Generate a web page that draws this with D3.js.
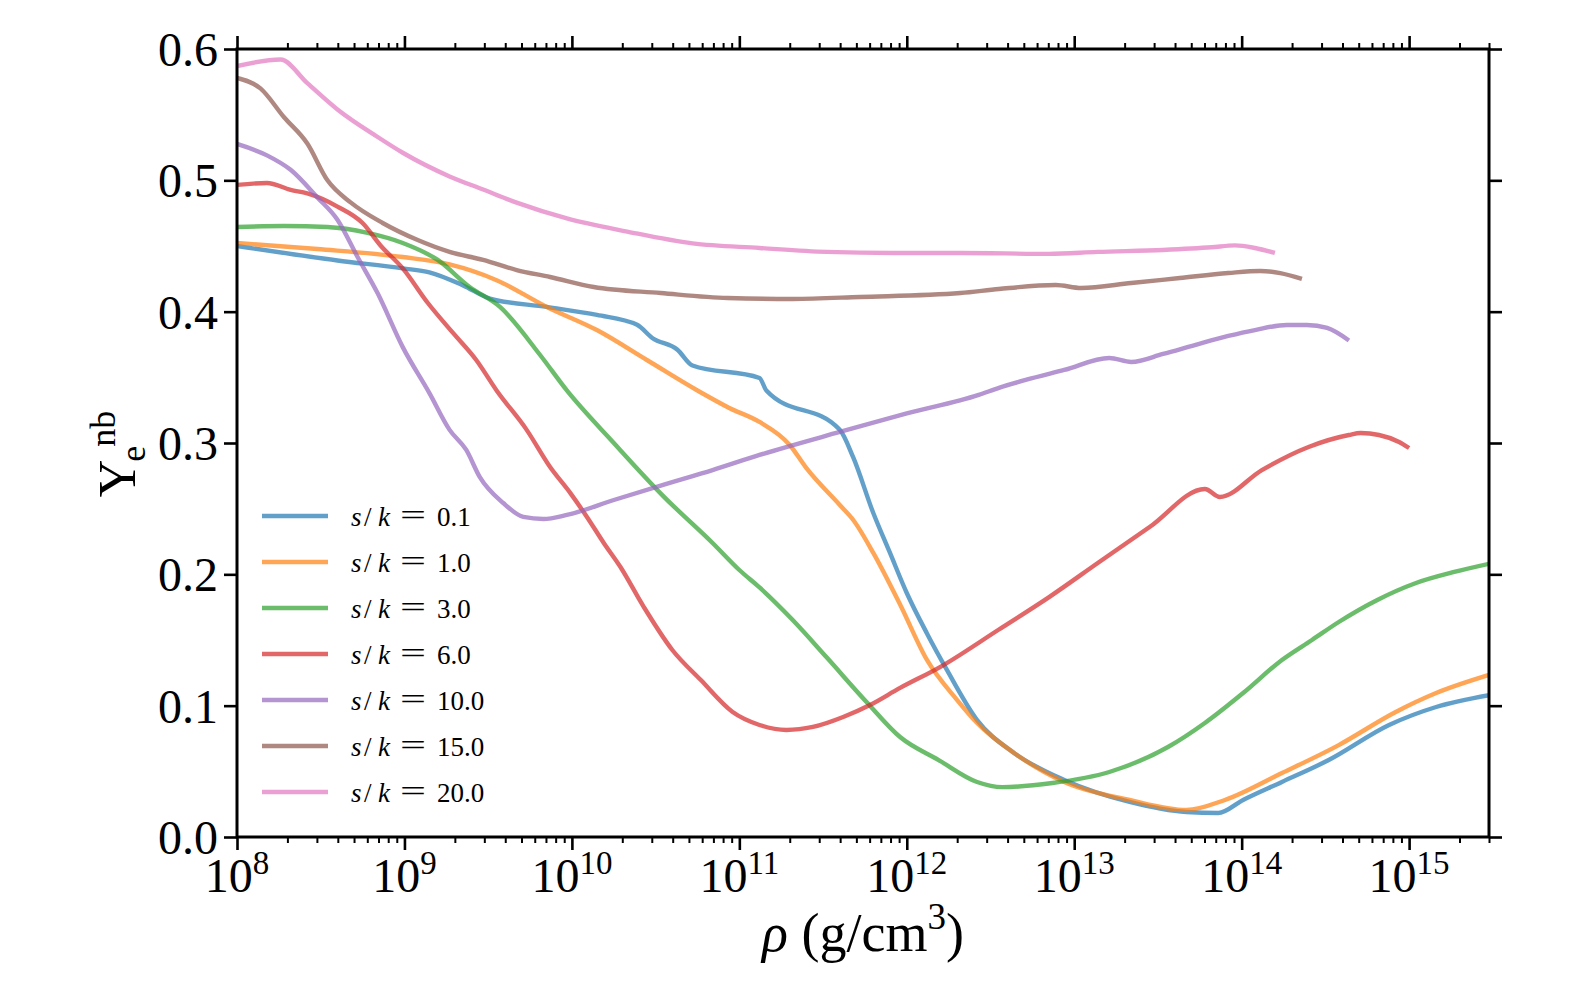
<!DOCTYPE html>
<html>
<head>
<meta charset="utf-8">
<script src="https://cdn.jsdelivr.net/npm/d3@7"></script>
<style>
  body { margin: 0; background: #fff; }
  svg { display: block; }
  text { font-family: "Liberation Serif", "DejaVu Serif", serif; fill: #000; }
</style>
</head>
<body>
<svg id="chart" width="1578" height="986"></svg>
<script>
// ---------------- data ----------------
const seriesLabels = ["0.1", "1.0", "3.0", "6.0", "10.0", "15.0", "20.0"];
const seriesColors = ["#1f77b4", "#ff7f0e", "#2ca02c", "#d62728", "#9467bd", "#8c564b", "#e377c2"];

const rho_s01 = [1e8, 3.98e8, 9.77e8, 1.41e9, 2.24e9, 3.24e9, 7.08e9, 1.41e10, 2.45e10, 3.02e10, 4.27e10, 5.25e10, 1.32e11, 1.45e11, 3.98e11, 4.79e11, 6.31e11, 7.94e11, 1.0e12, 1.32e12, 1.74e12, 2.63e12, 4.37e12, 8.71e12, 2.14e13, 4.68e13, 7.24e13, 1.02e14, 1.74e14, 3.31e14, 7.59e14, 1.45e15, 3e15];
const ye_s01  = [0.450, 0.439, 0.433, 0.430, 0.420, 0.410, 0.4036, 0.3975, 0.390, 0.380, 0.371, 0.359, 0.3495, 0.340, 0.310, 0.289, 0.2467, 0.2163, 0.1858, 0.155, 0.127, 0.089, 0.064, 0.0434, 0.0267, 0.019, 0.0183, 0.0282, 0.0419, 0.0586, 0.0853, 0.099, 0.108];

const rho_s1 = [1e8, 3.02e8, 9.77e8, 1.86e9, 3.55e9, 7.08e9, 1.41e10, 2.82e10, 5.62e10, 8.71e10, 1.32e11, 2.0e11, 2.51e11, 3.98e11, 4.79e11, 6.31e11, 9.12e11, 1.32e12, 2.0e12, 2.63e12, 4.37e12, 8.71e12, 2.14e13, 4.68e13, 7.94e13, 1.74e14, 3.8e14, 8.32e14, 1.45e15, 3e15];
const ye_s1  = [0.4523, 0.4477, 0.4416, 0.436, 0.424, 0.4036, 0.386, 0.363, 0.340, 0.3267, 0.316, 0.2985, 0.281, 0.2528, 0.2414, 0.2163, 0.177, 0.1348, 0.1043, 0.0868, 0.064, 0.0419, 0.0282, 0.0206, 0.0282, 0.0487, 0.070, 0.0952, 0.1096, 0.1234];

const rho_s3 = [1e8, 1.91e8, 3.47e8, 6.03e8, 9.77e8, 1.58e9, 2.45e9, 3.72e9, 6.46e9, 9.33e9, 1.78e10, 3.55e10, 6.92e10, 1.0e11, 1.32e11, 2.09e11, 3.31e11, 5.75e11, 9.12e11, 1.55e12, 2.63e12, 3.72e12, 7.41e12, 1.62e13, 3.63e13, 6.03e13, 1.02e14, 1.74e14, 2.63e14, 3.8e14, 6.46e14, 1.1e15, 1.86e15, 3e15];
const ye_s3  = [0.4645, 0.4652, 0.4645, 0.460, 0.4523, 0.4394, 0.4188, 0.4036, 0.367, 0.340, 0.300, 0.259, 0.2239, 0.2033, 0.190, 0.165, 0.137, 0.1028, 0.0761, 0.0586, 0.0419, 0.038, 0.0411, 0.0495, 0.0685, 0.0868, 0.1096, 0.1348, 0.150, 0.1637, 0.1805, 0.1934, 0.2018, 0.208];

const rho_s6 = [1e8, 1.51e8, 2.09e8, 2.63e8, 3.98e8, 5.62e8, 7.24e8, 9.77e8, 1.38e9, 1.95e9, 2.69e9, 3.55e9, 5.37e9, 7.41e9, 9.77e9, 1.23e10, 1.55e10, 1.95e10, 2.69e10, 3.98e10, 5.89e10, 9.12e10, 1.32e11, 1.91e11, 2.75e11, 4.17e11, 6.03e11, 9.12e11, 1.58e12, 3.55e12, 7.08e12, 1.41e13, 2.82e13, 6.03e13, 7.41e13, 1.32e14, 2.51e14, 4.37e14, 5.13e14, 6.61e14, 8.71e14, 1e15];
const ye_s6  = [0.4965, 0.498, 0.4927, 0.490, 0.480, 0.4675, 0.450, 0.433, 0.4066, 0.3838, 0.363, 0.340, 0.310, 0.2817, 0.262, 0.2437, 0.2239, 0.2056, 0.1751, 0.1424, 0.1195, 0.0952, 0.0853, 0.0815, 0.0838, 0.0914, 0.1005, 0.1135, 0.1294, 0.158, 0.1827, 0.2094, 0.236, 0.265, 0.2589, 0.2794, 0.297, 0.3061, 0.3076, 0.3061, 0.3008, 0.2962];

const rho_s10 = [1e8, 1.51e8, 2.09e8, 3.02e8, 3.98e8, 5.25e8, 6.92e8, 9.77e8, 1.41e9, 1.86e9, 2.34e9, 2.82e9, 3.89e9, 5.13e9, 6.76e9, 9.33e9, 1.78e10, 3.47e10, 6.92e10, 1.32e11, 3.98e11, 1.0e12, 2.69e12, 3.55e12, 5.13e12, 8.71e12, 1.62e13, 2.19e13, 3.39e13, 5.25e13, 8.32e13, 1.2e14, 1.86e14, 2.45e14, 3.24e14, 4.37e14];
const ye_s10  = [0.5277, 0.519, 0.508, 0.487, 0.470, 0.4416, 0.414, 0.373, 0.338, 0.310, 0.2947, 0.274, 0.2543, 0.2437, 0.2421, 0.2452, 0.2566, 0.268, 0.2794, 0.2909, 0.3084, 0.3225, 0.3366, 0.342, 0.348, 0.3556, 0.3647, 0.3617, 0.3678, 0.3746, 0.3815, 0.386, 0.3899, 0.3899, 0.3876, 0.378];

const rho_s15 = [1e8, 1.38e8, 1.91e8, 2.63e8, 3.47e8, 4.79e8, 7.41e8, 1.2e9, 1.86e9, 2.95e9, 4.68e9, 7.41e9, 1.35e10, 3.39e10, 8.51e10, 2.09e11, 5.25e11, 2.09e12, 3.55e12, 7.76e12, 1.1e13, 2.19e13, 4.27e13, 8.32e13, 1.29e14, 1.7e14, 2.29e14];
const ye_s15  = [0.578, 0.570, 0.548, 0.528, 0.500, 0.483, 0.4675, 0.4545, 0.4455, 0.4394, 0.4317, 0.4264, 0.4188, 0.4142, 0.4104, 0.4097, 0.4112, 0.4142, 0.4173, 0.4203, 0.418, 0.4218, 0.4256, 0.4294, 0.431, 0.4294, 0.4249];

const rho_s20 = [1e8, 1.82e8, 2.63e8, 3.98e8, 6.92e8, 9.77e8, 1.86e9, 2.95e9, 4.68e9, 9.33e9, 2.14e10, 5.25e10, 1.32e11, 3.31e11, 8.32e11, 2.09e12, 7.08e12, 1.38e13, 3.39e13, 6.61e13, 9.12e13, 1.2e14, 1.58e14];
const ye_s20  = [0.587, 0.592, 0.574, 0.554, 0.533, 0.521, 0.503, 0.493, 0.483, 0.471, 0.461, 0.452, 0.4485, 0.4455, 0.4447, 0.4447, 0.444, 0.4455, 0.447, 0.449, 0.4505, 0.4485, 0.4447];

const xDomain = [1e8, 3e15];
const yDomain = [0, 0.6];
const yTickValues = [0.0, 0.1, 0.2, 0.3, 0.4, 0.5, 0.6];
const xMajorTicks = [1e8, 1e9, 1e10, 1e11, 1e12, 1e13, 1e14, 1e15];

// ---------------- build ----------------
const allRho = [rho_s01, rho_s1, rho_s3, rho_s6, rho_s10, rho_s15, rho_s20];
const allYe = [ye_s01, ye_s1, ye_s3, ye_s6, ye_s10, ye_s15, ye_s20];
const series = seriesLabels.map((lab, i) => ({
  label: lab, color: seriesColors[i],
  points: allRho[i].map((r, j) => ({ rho: r, ye: allYe[i][j] }))
}));

const W = 1578, H = 986;
const margin = { left: 237, right: 89, top: 49, bottom: 149 };
const svg = d3.select("#chart");

const x = d3.scaleLog().domain(xDomain).range([margin.left, W - margin.right]);
const y = d3.scaleLinear().domain(yDomain).range([H - margin.bottom, margin.top]);

const allTicks = x.ticks();
const minorTicks = allTicks.filter(v => Math.abs(Math.log10(v) - Math.round(Math.log10(v))) > 1e-6 && v <= xDomain[1] * 1.0001);

const plotBottom = H - margin.bottom, plotTop = margin.top;
const plotLeft = margin.left, plotRight = W - margin.right;

// clip
svg.append("defs").append("clipPath").attr("id", "clip")
  .append("rect").attr("x", plotLeft).attr("y", plotTop)
  .attr("width", plotRight - plotLeft).attr("height", plotBottom - plotTop);

// lines
const line = d3.line().x(d => x(d.rho)).y(d => y(d.ye)).curve(d3.curveMonotoneX);
svg.append("g").attr("clip-path", "url(#clip)")
  .selectAll("path").data(series).join("path")
  .attr("d", d => line(d.points))
  .attr("fill", "none")
  .attr("stroke", d => d.color)
  .attr("stroke-opacity", 0.7)
  .attr("stroke-width", 4.4)
  .attr("stroke-linejoin", "round")
  .attr("stroke-linecap", "butt");

// axes
function styleAxis(g, w) {
  g.select(".domain").remove();
  g.selectAll(".tick line").attr("stroke", "#000").attr("stroke-width", w);
  g.selectAll(".tick text").remove();
}
svg.append("g").attr("transform", `translate(0,${plotBottom})`)
  .call(d3.axisBottom(x).tickValues(xMajorTicks).tickSize(13).tickFormat(""))
  .call(g => styleAxis(g, 2.6));
svg.append("g").attr("transform", `translate(0,${plotBottom})`)
  .call(d3.axisBottom(x).tickValues(minorTicks).tickSize(6).tickFormat(""))
  .call(g => styleAxis(g, 2));
svg.append("g").attr("transform", `translate(0,${plotTop})`)
  .call(d3.axisTop(x).tickValues(xMajorTicks).tickSize(13).tickFormat(""))
  .call(g => styleAxis(g, 2.6));
svg.append("g").attr("transform", `translate(0,${plotTop})`)
  .call(d3.axisTop(x).tickValues(minorTicks).tickSize(6).tickFormat(""))
  .call(g => styleAxis(g, 2));
svg.append("g").attr("transform", `translate(${plotLeft},0)`)
  .call(d3.axisLeft(y).tickValues(yTickValues).tickSize(13).tickFormat(""))
  .call(g => styleAxis(g, 2.6));
svg.append("g").attr("transform", `translate(${plotRight},0)`)
  .call(d3.axisRight(y).tickValues(yTickValues).tickSize(13).tickFormat(""))
  .call(g => styleAxis(g, 2.6));

// frame
svg.append("rect").attr("x", plotLeft).attr("y", plotTop)
  .attr("width", plotRight - plotLeft).attr("height", plotBottom - plotTop)
  .attr("fill", "none").attr("stroke", "#000").attr("stroke-width", 3);

// y tick labels
svg.append("g").selectAll("text").data(yTickValues).join("text")
  .attr("x", plotLeft - 19)
  .attr("y", d => y(d) + 17)
  .attr("text-anchor", "end")
  .attr("font-size", 48)
  .text(d => d3.format(".1f")(d));

// x tick labels
const xl = svg.append("g").selectAll("text").data(xMajorTicks).join("text")
  .attr("x", d => x(d))
  .attr("y", 892)
  .attr("text-anchor", "middle")
  .attr("font-size", 48);
xl.append("tspan").text("10");
xl.append("tspan").attr("font-size", 33).attr("dy", -18).text(d => Math.round(Math.log10(d)));

// x label
const xlab = svg.append("text")
  .attr("x", (plotLeft + plotRight) / 2)
  .attr("y", 951)
  .attr("text-anchor", "middle")
  .attr("font-size", 54);
xlab.append("tspan").attr("font-style", "italic").text("ρ");
xlab.append("tspan").text(" (g/cm");
xlab.append("tspan").attr("font-size", 37).attr("dy", -22).text("3");
xlab.append("tspan").attr("dy", 22).text(")");

// y label
const ylab = svg.append("text")
  .attr("transform", `translate(135,${(plotTop + plotBottom) / 2 + 11}) rotate(-90)`)
  .attr("text-anchor", "middle")
  .attr("font-size", 52);
ylab.append("tspan").text("Y");
ylab.append("tspan").attr("font-size", 36).attr("dy", 10).attr("dx", -2).text("e");
ylab.append("tspan").attr("font-size", 36).attr("dy", -30).attr("dx", -1).text("nb");

// legend
const legRowY = [516, 562, 608, 654, 700, 746, 792];
const leg = svg.append("g").selectAll("g").data(series).join("g");
leg.append("line")
  .attr("x1", 262).attr("x2", 328)
  .attr("y1", (d, i) => legRowY[i]).attr("y2", (d, i) => legRowY[i])
  .attr("stroke", d => d.color).attr("stroke-opacity", 0.7).attr("stroke-width", 4.4);
const lt = leg.append("text")
  .attr("y", (d, i) => legRowY[i] + 10)
  .attr("font-size", 27);
lt.append("tspan").attr("x", 351).attr("font-style", "italic").text("s");
lt.append("tspan").attr("x", 364).text("/");
lt.append("tspan").attr("x", 378).attr("font-style", "italic").text("k");
lt.append("tspan").attr("x", 437).text(d => d.label);
leg.append("text")
  .attr("x", 400).attr("y", (d, i) => legRowY[i] + 9)
  .attr("font-size", 30)
  .attr("textLength", 26).attr("lengthAdjust", "spacingAndGlyphs")
  .text("=");
</script>
</body>
</html>
